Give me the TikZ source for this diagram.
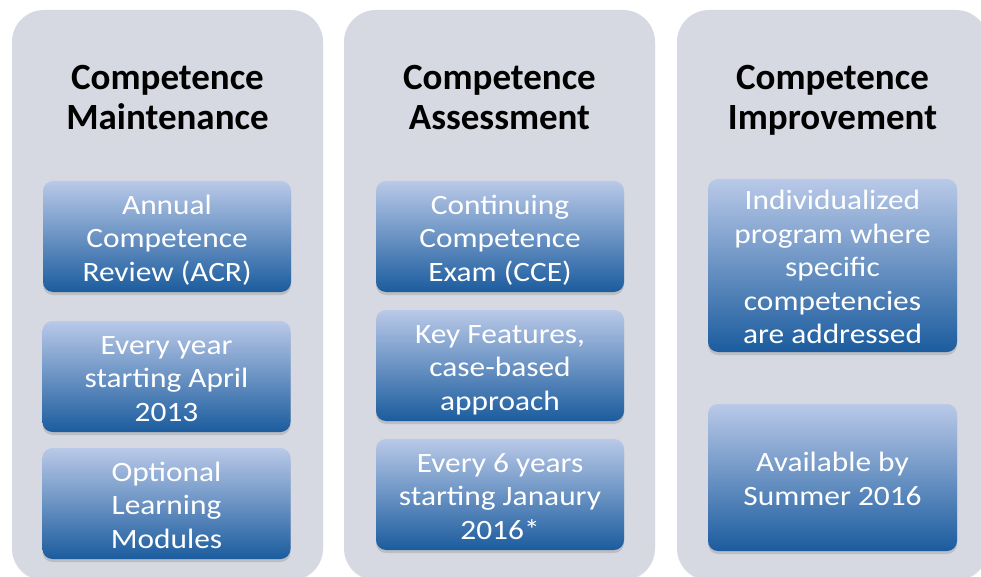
\documentclass[tikz,border=0pt]{standalone}
\usepackage{fontspec}
\setmainfont{Carlito}
\newfontfamily\boxfont[FakeStretch=1.12]{Carlito}
\usetikzlibrary{shadows}
\definecolor{colgray}{HTML}{D6D9E1}
\definecolor{bluetop}{HTML}{B9C9E8}
\definecolor{bluebot}{HTML}{1B5C9E}
\newcommand\boxtop{\rule{0pt}{28pt}}
\newcommand\boxbot{\rule[-6pt]{0pt}{6pt}}
\newcommand\titletop{\rule{0pt}{33pt}}
\newcommand\titlebot{\rule[-6pt]{0pt}{6pt}}
\tikzset{
  column/.style={fill=colgray, rounded corners=32pt, minimum width=311pt, minimum height=570pt, inner sep=0pt, draw=none,
    drop shadow={shadow xshift=0pt, shadow yshift=-1pt, opacity=0.12}},
  coltitle/.style={align=center, font=\fontsize{37}{40}\selectfont\bfseries, text=black, inner sep=0pt},
  bluebox/.style={rounded corners=10pt, top color=bluetop, bottom color=bluebot, minimum width=248pt, minimum height=111pt,
    inner sep=0pt, align=center, text=white, font=\boxfont\fontsize{28}{33.5}\selectfont,
    drop shadow={shadow xshift=0pt, shadow yshift=-3pt, opacity=0.3}},
}
\begin{document}
\begin{tikzpicture}[x=1pt,y=-1pt]
\clip (0,0) rectangle (981,577);
\fill[white] (0,0) rectangle (981,577);
% columns
\node[column] (col1) at (167.5,295) {};
\node[column] (col2) at (499.5,295) {};
\node[column] (col3) at (832.5,295) {};
% titles
\node[coltitle] (t1) at (167.5,96.5) {\titletop Competence\\Maintenance\titlebot};
\node[coltitle] (t2) at (499.5,96.5) {\titletop Competence\\Assessment\titlebot};
\node[coltitle] (t3) at (832.5,96.5) {\titletop Competence\\Improvement\titlebot};
% column 1
\node[bluebox] (m1) at (167,236.5) {\boxtop Annual\\Competence\\Review (ACR)\boxbot};
\node[bluebox] (m2) at (166.5,376.5) {\boxtop Every year\\starting April\\2013\boxbot};
\node[bluebox] (m3) at (166.5,503.5) {\boxtop Optional\\Learning\\Modules\boxbot};
% column 2
\node[bluebox] (a1) at (500,236.5) {\boxtop Continuing\\Competence\\Exam (CCE)\boxbot};
\node[bluebox] (a2) at (500,365.5) {\boxtop Key Features,\\case-based\\approach\boxbot};
\node[bluebox] (a3) at (500,494.5) {\boxtop Every 6 years\\starting Janaury\\2016*\boxbot};
% column 3
\node[bluebox, minimum width=249pt, minimum height=173pt] (i1) at (832.5,265.5)
  {\boxtop Individualized\\program where\\specific\\competencies\\are addressed\boxbot};
\node[bluebox, minimum width=249pt, minimum height=147pt] (i2) at (832.5,477.5)
  {\boxtop Available by\\Summer 2016\boxbot};
\end{tikzpicture}
\end{document}
